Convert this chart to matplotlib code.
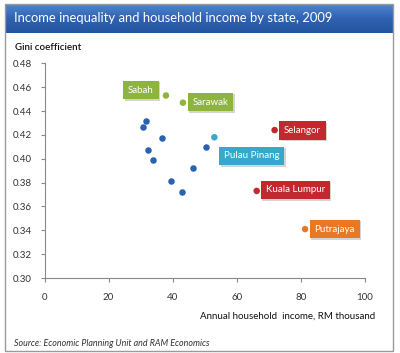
import matplotlib
matplotlib.use("Agg")
import matplotlib.pyplot as plt
import numpy as np
from matplotlib.patches import Rectangle
from matplotlib.colors import LinearSegmentedColormap

# Data
other_x = [31.6, 30.6, 36.6, 32.2, 33.9, 39.6, 42.8, 46.2, 50.5]
other_y = [0.432, 0.427, 0.417, 0.407, 0.399, 0.381, 0.372, 0.392, 0.410]
states = ["Sabah", "Sarawak", "Pulau Pinang", "Selangor", "Kuala Lumpur", "Putrajaya"]
state_x = [37.9, 43.2, 53.0, 71.8, 66.2, 81.3]
state_y = [0.453, 0.447, 0.418, 0.424, 0.373, 0.341]
state_colors = ["#8DB43C", "#8DB43C", "#35A8CC", "#C3282E", "#C3282E", "#EA7722"]
label_x = [30.1, 51.8, 64.7, 80.5, 78.3, 90.5]
label_y = [0.4576, 0.4475, 0.4023, 0.4236, 0.3738, 0.341]
x_ticks = [0, 20, 40, 60, 80, 100]
y_ticks = [0.30, 0.32, 0.34, 0.36, 0.38, 0.40, 0.42, 0.44, 0.46, 0.48]

W, H = 400, 353
fig = plt.figure(figsize=(W / 100, H / 100), dpi=100)
fig.patch.set_facecolor("white")
font = "Lato"

# outer frame
frame = Rectangle((5 / W, 1 - 351 / H), 388 / W, 347 / H, transform=fig.transFigure,
                  facecolor="none", edgecolor="#9A9A9A", lw=1.0, zorder=5)
fig.add_artist(frame)

# header gradient
hax = fig.add_axes([5 / W, 1 - 33 / H, 388 / W, 29 / H])
grad = np.linspace(0, 1, 50).reshape(-1, 1)
cmap = LinearSegmentedColormap.from_list("h", ["#4F86CE", "#2F62B2", "#23549F"])
hax.imshow(grad, aspect="auto", cmap=cmap, extent=[0, 1, 0, 1])
hax.set_axis_off()
hax.text(9 / 388, 0.5, "Income inequality and household income by state, 2009", color="white",
         fontsize=9.4, family=font, va="center", ha="left", transform=hax.transAxes)

# main axes
x0, x1 = 44.5, 365
y0, y1 = 278, 63.3
ax = fig.add_axes([x0 / W, 1 - y0 / H, (x1 - x0) / W, (y0 - y1) / H])
ax.patch.set_alpha(0)
ax.set_xlim(0, 100)
ax.set_ylim(0.30, 0.48)
ax.set_xticks(x_ticks)
ax.set_yticks(y_ticks)
ax.set_xticklabels([str(v) for v in x_ticks])
ax.set_yticklabels([f"{v:.2f}" for v in y_ticks])
for s in ["top", "right"]:
    ax.spines[s].set_visible(False)
for s in ["left", "bottom"]:
    ax.spines[s].set_color("#888888")
    ax.spines[s].set_linewidth(0.8)
ax.tick_params(axis="both", colors="#888888", labelcolor="#333333", labelsize=7, length=3, width=0.8)
ax.tick_params(axis="x", pad=8)
ax.tick_params(axis="y", pad=6)
for lab in ax.get_xticklabels() + ax.get_yticklabels():
    lab.set_family(font)

ax.scatter(other_x, other_y, s=22, color="#2A62B3", zorder=3, linewidths=0)
ax.scatter(state_x, state_y, s=22, color=state_colors, zorder=3, linewidths=0)
for name, lx, ly, c in zip(states, label_x, label_y, state_colors):
    ax.annotate(name, (lx, ly), xytext=(1, -1), textcoords="offset points",
                color="none", fontsize=7, family=font, ha="center", va="center",
                bbox=dict(boxstyle="square,pad=0.5", fc="#AAAAAA", ec="none", alpha=0.5), zorder=3)
    ax.annotate(name, (lx, ly), color="white", fontsize=7, family=font, ha="center", va="center",
                bbox=dict(boxstyle="square,pad=0.5", fc=c, ec="none"), zorder=4)

fig.text(15 / W, 1 - 47 / H, "Gini coefficient", fontsize=7, family=font, color="#111111",
         va="center", ha="left", fontweight="semibold")
fig.text(375 / W, 1 - 316 / H, "Annual household  income, RM thousand", fontsize=7, family=font,
         color="#111111", va="center", ha="right")
fig.text(14 / W, 1 - 343 / H, "Source: Economic Planning Unit and RAM Economics", fontsize=6.4,
         family=font, style="italic", color="#333333", va="center", ha="left")

fig.savefig("out.png", dpi=100)
